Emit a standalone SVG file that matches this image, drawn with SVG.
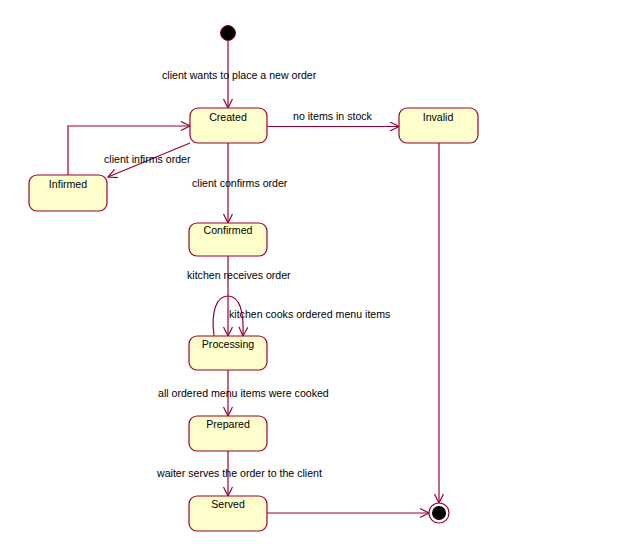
<svg xmlns="http://www.w3.org/2000/svg" width="642" height="557" viewBox="0 0 642 557">
<style>
.st{fill:#ffffcc;stroke:#990033;stroke-width:1.2}
.ln{fill:none;stroke:#990033;stroke-width:1.2;marker-end:url(#arr)}
.t{font-family:"Liberation Sans",Arial,sans-serif;font-size:10.6px;fill:#000}
.c{text-anchor:middle}
</style>
<defs>
<marker id="arr" markerUnits="userSpaceOnUse" markerWidth="12" markerHeight="12" refX="10" refY="5" orient="auto">
<path d="M1,0.5 L10,5 L1,9.5" fill="none" stroke="#990033" stroke-width="1.2"/>
</marker>
</defs>
<rect width="642" height="557" fill="#fff"/>
<g id="connectors">
<path class="ln" d="M228,41 L228,108"/>
<path class="ln" d="M267,126.5 L399,126.5"/>
<path class="ln" d="M190,143 L108,177"/>
<path class="ln" d="M68,175 L68,126 L190,126"/>
<path class="ln" d="M228,143 L228,223"/>
<path class="ln" d="M228,256 L228,336"/>
<path class="ln" d="M214,336 C211,312 216,296 228,296 C240,296 244,312 243,336"/>
<path class="ln" d="M228,370 L228,416"/>
<path class="ln" d="M228,451 L228,496"/>
<path class="ln" d="M267,513 L429,513"/>
<path class="ln" d="M439,143 L439,503"/>
<text class="t" x="162" y="79">client wants to place a new order</text>
<text class="t" x="293" y="120">no items in stock</text>
<text class="t" x="104" y="163">client infirms order</text>
<text class="t" x="192" y="187">client confirms order</text>
<text class="t" x="187" y="279">kitchen receives order</text>
<text class="t" x="229" y="318">kitchen cooks ordered menu items</text>
<text class="t" x="158" y="397">all ordered menu items were cooked</text>
<text class="t" x="157" y="477">waiter serves the order to the client</text>
</g>
<g id="initial"><circle cx="228" cy="33" r="7.5" fill="#000" stroke="#990033" stroke-width="1"/></g>
<g id="created"><rect class="st" x="190" y="108" width="77" height="35" rx="8"/><text class="t c" x="228" y="121">Created</text></g>
<g id="invalid"><rect class="st" x="399" y="108" width="79" height="35" rx="8"/><text class="t c" x="438" y="121">Invalid</text></g>
<g id="infirmed"><rect class="st" x="29" y="175" width="78" height="36" rx="8"/><text class="t c" x="68" y="188">Infirmed</text></g>
<g id="confirmed"><rect class="st" x="189" y="223" width="78" height="33" rx="8"/><text class="t c" x="228" y="234">Confirmed</text></g>
<g id="processing"><rect class="st" x="189" y="336" width="78" height="34" rx="8"/><text class="t c" x="228" y="348">Processing</text></g>
<g id="prepared"><rect class="st" x="189" y="416" width="78" height="35" rx="8"/><text class="t c" x="228" y="428">Prepared</text></g>
<g id="served"><rect class="st" x="189" y="496" width="78" height="35" rx="8"/><text class="t c" x="228" y="508">Served</text></g>
<g id="final"><circle cx="439" cy="513" r="10" fill="#fff" stroke="#990033" stroke-width="1.2"/><circle cx="439" cy="513" r="7" fill="#000"/></g>
</svg>
